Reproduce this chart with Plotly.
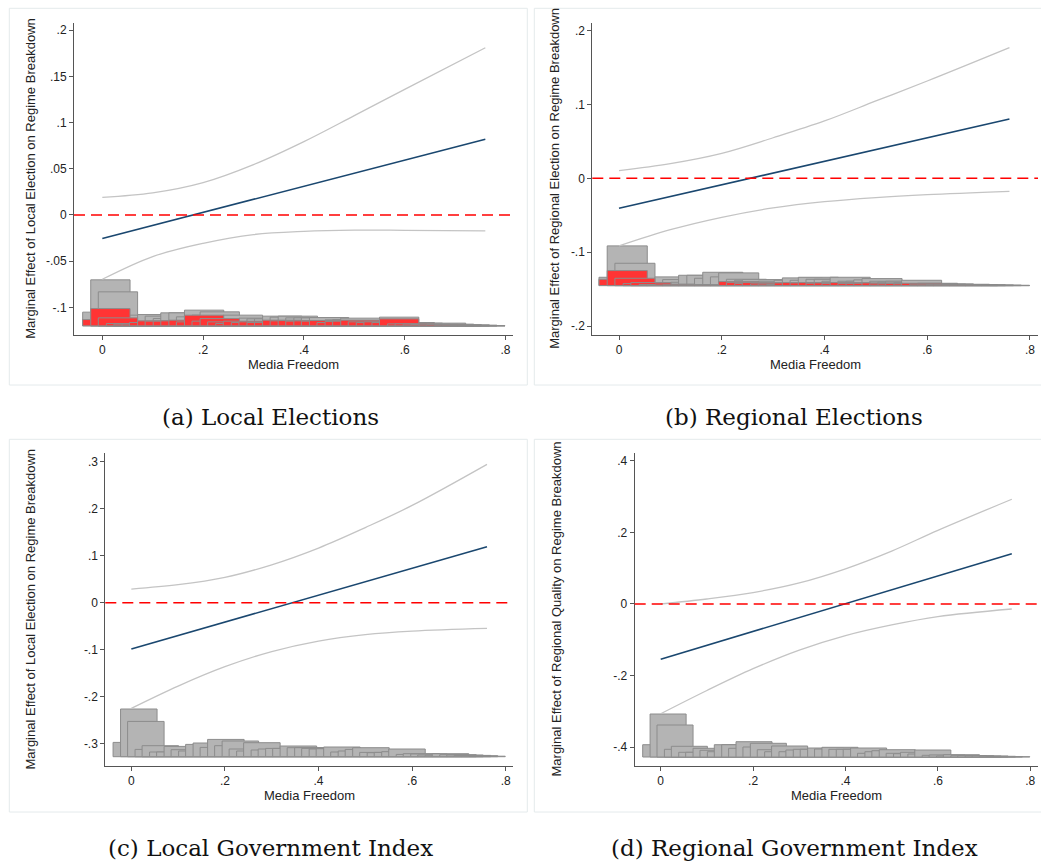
import plotly.graph_objects as go

# ---------------------------------------------------------------------------
# Marginal effect estimates (evaluated along Media Freedom)
# ---------------------------------------------------------------------------
media_freedom = [0.0, 0.1, 0.2, 0.3, 0.4, 0.5, 0.6, 0.76]

me_local = [-0.0255, -0.0114, 0.0027, 0.0169, 0.0310, 0.0452, 0.0594, 0.0820]
hi_local = [0.0191, 0.0239, 0.0350, 0.0545, 0.0794, 0.1075, 0.1360, 0.1810]
lo_local = [-0.0696, -0.0450, -0.0307, -0.0212, -0.0177, -0.0164, -0.0166, -0.0173]

me_regional = [-0.0405, -0.0246, -0.0088, 0.0071, 0.0230, 0.0389, 0.0547, 0.0802]
hi_regional = [0.0104, 0.0199, 0.0338, 0.0548, 0.0775, 0.1045, 0.1315, 0.1766]
lo_regional = [-0.0914, -0.0695, -0.0527, -0.0400, -0.0315, -0.0260, -0.0221, -0.0176]

me_local_gov = [-0.0984, -0.0698, -0.0412, -0.0126, 0.0160, 0.0446, 0.0732, 0.1189]
hi_local_gov = [0.0290, 0.0382, 0.0538, 0.0805, 0.1160, 0.1595, 0.2065, 0.2937]
lo_local_gov = [-0.2243, -0.1770, -0.1359, -0.1038, -0.0815, -0.0678, -0.0603, -0.0545]

me_regional_gov = [-0.1544, -0.1156, -0.0768, -0.0380, 0.0008, 0.0396, 0.0784, 0.1405]
hi_regional_gov = [0.0000, 0.0140, 0.0320, 0.0590, 0.0985, 0.1480, 0.2060, 0.2930]
lo_regional_gov = [-0.3070, -0.2420, -0.1810, -0.1290, -0.0884, -0.0586, -0.0353, -0.0140]

# ---------------------------------------------------------------------------
# Distribution of Media Freedom (observations per value)
# ---------------------------------------------------------------------------
mf_values = [0.000, 0.016, 0.031, 0.047, 0.062, 0.078, 0.093, 0.109, 0.124, 0.140,
             0.155, 0.171, 0.186, 0.202, 0.217, 0.233, 0.248, 0.264, 0.279, 0.295,
             0.310, 0.326, 0.341, 0.357, 0.372, 0.388, 0.403, 0.419, 0.434, 0.450,
             0.465, 0.481, 0.496, 0.512, 0.527, 0.543, 0.558, 0.574, 0.589, 0.605,
             0.620, 0.636, 0.651, 0.667, 0.682, 0.698, 0.713, 0.729, 0.744, 0.760]

obs_local_all = [13.7, 46.0, 34.0, 2.3, 3.0, 3.0, 10.7, 11.3, 9.7, 7.3,
                 13.0, 13.0, 9.0, 15.7, 10.7, 14.0, 7.3, 5.7, 10.7, 5.7,
                 7.7, 7.0, 7.0, 9.7, 8.7, 9.7, 8.0, 8.0, 8.0, 8.3,
                 5.3, 6.0, 6.3, 7.7, 5.3, 4.7, 5.3, 4.7, 8.7, 3.0,
                 3.3, 2.7, 2.3, 1.7, 2.7, 1.7, 1.3, 1.0, 0.7, 0.3]
obs_local_elec = [6.3, 17.3, 8.0, 2.3, 1.7, 1.7, 3.3, 5.0, 4.7, 4.7,
                  5.0, 5.7, 4.0, 10.7, 4.7, 7.3, 4.0, 2.3, 4.7, 3.3,
                  4.0, 3.3, 3.3, 5.7, 5.0, 5.3, 4.7, 5.0, 4.7, 5.3,
                  3.3, 4.3, 4.7, 5.7, 4.0, 3.3, 4.0, 3.3, 7.0, 2.0,
                  2.0, 1.7, 1.3, 1.0, 1.3, 0.7, 0.7, 0.3, 0.3, 0.0]

obs_regional_all = [8.3, 39.7, 22.3, 3.3, 3.0, 2.3, 2.5, 8.7, 6.0, 3.3,
                    10.3, 10.3, 7.3, 13.3, 8.7, 12.7, 6.3, 5.3, 6.0, 3.3,
                    4.3, 1.0, 5.3, 7.7, 5.3, 8.3, 6.3, 6.3, 4.3, 8.3,
                    4.3, 4.3, 5.7, 7.0, 4.3, 3.5, 4.3, 3.0, 5.3, 2.0,
                    2.3, 1.5, 1.7, 1.0, 1.3, 0.7, 0.7, 0.5, 0.3, 0.3]
obs_regional_elec = [6.3, 15.0, 7.3, 2.0, 3.0, 1.0, 1.0, 1.5, 0.7, 0.7,
                     0.5, 0.5, 0.7, 0.7, 0.5, 4.0, 3.0, 2.0, 3.0, 1.7,
                     1.5, 1.0, 2.7, 3.0, 2.7, 3.0, 2.3, 2.7, 2.0, 3.0,
                     2.0, 2.0, 2.3, 2.7, 1.7, 1.7, 2.0, 1.7, 2.3, 1.3,
                     1.3, 1.0, 1.0, 0.7, 0.7, 0.5, 0.5, 0.3, 0.3, 0.0]

obs_local_gov = [14.3, 47.7, 35.3, 7.3, 11.0, 4.7, 4.7, 10.3, 7.0, 5.7,
                 12.3, 13.7, 9.3, 17.3, 11.0, 15.7, 7.7, 5.7, 14.0, 6.7,
                 7.7, 8.3, 8.3, 10.7, 9.0, 9.0, 8.3, 7.7, 8.0, 9.7,
                 4.7, 5.7, 7.3, 9.0, 4.3, 4.0, 4.3, 5.0, 7.7, 2.3,
                 3.0, 2.7, 1.7, 1.5, 3.0, 2.0, 1.7, 1.3, 1.0, 0.5]

obs_regional_gov = [12.3, 43.0, 32.0, 7.7, 10.7, 4.7, 4.7, 8.7, 6.7, 5.3,
                    12.3, 12.3, 8.7, 15.3, 10.0, 13.7, 7.3, 5.3, 11.0, 5.3,
                    7.0, 7.7, 7.7, 9.0, 8.0, 9.7, 7.7, 7.7, 7.7, 9.0,
                    3.7, 5.3, 6.3, 7.3, 3.7, 3.3, 4.7, 3.0, 7.0, 1.7,
                    2.0, 1.0, 2.3, 1.3, 1.3, 1.0, 1.0, 0.7, 0.5, 0.3]

x_ticks = [0, 0.2, 0.4, 0.6, 0.8]
x_ticktext = ["0", ".2", ".4", ".6", ".8"]

panels = [
    dict(key="", me=me_local, hi=hi_local, lo=lo_local,
         hist=[obs_local_all, obs_local_elec],
         ytitle="Marginal Effect of Local Election on Regime Breakdown",
         caption="(a) Local Elections",
         yticks=[-0.1, -0.05, 0, 0.05, 0.1, 0.15, 0.2],
         yticktext=["-.1", "-.05", "0", ".05", ".1", ".15", ".2"]),
    dict(key="2", me=me_regional, hi=hi_regional, lo=lo_regional,
         hist=[obs_regional_all, obs_regional_elec],
         ytitle="Marginal Effect of Regional Election on Regime Breakdown",
         caption="(b) Regional Elections",
         yticks=[-0.2, -0.1, 0, 0.1, 0.2],
         yticktext=["-.2", "-.1", "0", ".1", ".2"]),
    dict(key="3", me=me_local_gov, hi=hi_local_gov, lo=lo_local_gov,
         hist=[obs_local_gov],
         ytitle="Marginal Effect of Local Election on Regime Breakdown",
         caption="(c) Local Government Index",
         yticks=[-0.3, -0.2, -0.1, 0, 0.1, 0.2, 0.3],
         yticktext=["-.3", "-.2", "-.1", "0", ".1", ".2", ".3"]),
    dict(key="4", me=me_regional_gov, hi=hi_regional_gov, lo=lo_regional_gov,
         hist=[obs_regional_gov],
         ytitle="Marginal Effect of Regional Quality on Regime Breakdown",
         caption="(d) Regional Government Index",
         yticks=[-0.4, -0.2, 0, 0.2, 0.4],
         yticktext=["-.4", "-.2", "0", ".2", ".4"]),
]

# ---------------------------------------------------------------------------
# Layout geometry (pixels on a 1041 x 866 page)
# ---------------------------------------------------------------------------
W, H = 1041, 866
geom = [
    dict(xpx=(74, 513), ypx=(22.7, 335), xr=(-0.0562, 0.8149), yr=(-0.1299, 0.2081),
         base=-0.120, ppu=924, ytitle_x=31, xtitle_y=364, cap=(270, 417),
         frame=(9.3, 8.3, 527.3, 385)),
    dict(xpx=(592.3, 1038), ypx=(22.7, 335), xr=(-0.0520, 0.8156), yr=(-0.2118, 0.2103),
         base=-0.145, ppu=740, ytitle_x=555, xtitle_y=364, cap=(794, 417),
         frame=(534.3, 8.3, 1045, 385)),
    dict(xpx=(105.3, 513.3), ypx=(453.3, 765.7), xr=(-0.0556, 0.8162), yr=(-0.3461, 0.3172),
         base=-0.327, ppu=471, ytitle_x=30, xtitle_y=795, cap=(270, 848),
         frame=(9.3, 439.3, 527.3, 812)),
    dict(xpx=(634.7, 1038), ypx=(453.3, 765.7), xr=(-0.0563, 0.8167), yr=(-0.4523, 0.4215),
         base=-0.428, ppu=357.5, ytitle_x=556, xtitle_y=795, cap=(794, 848),
         frame=(534.3, 439.3, 1045, 812)),
]

GRAY_FILL = "#b4b4b4"
GRAY_EDGE = "#8c8c8c"
RED_FILL = "#ff3434"
CI_COLOR = "#c4c4c4"
ME_COLOR = "#1a476f"
AXIS_FONT = "Liberation Sans, Arial, sans-serif"

fig = go.Figure()
layout = dict(width=W, height=H, margin=dict(l=0, r=0, t=0, b=0),
              paper_bgcolor="white", plot_bgcolor="white",
              barmode="overlay", showlegend=False)
annotations = []
shapes = []

for p, g in zip(panels, geom):
    xa = "x" + p["key"]
    ya = "y" + p["key"]
    scale = 1.0 / g["ppu"]

    # histograms of the moderator, drawn along the bottom of the panel
    fills = [GRAY_FILL, RED_FILL]
    for h, fill in zip(p["hist"], fills):
        fig.add_trace(go.Bar(
            x=mf_values, y=[v * scale for v in h], base=g["base"], width=0.078,
            marker=dict(color=fill, line=dict(color=GRAY_EDGE, width=1)),
            xaxis=xa, yaxis=ya, hoverinfo="skip"))

    # confidence bounds
    for ci in (p["hi"], p["lo"]):
        fig.add_trace(go.Scatter(
            x=media_freedom, y=ci, mode="lines",
            line=dict(color=CI_COLOR, width=1.3, shape="spline", smoothing=1.0),
            xaxis=xa, yaxis=ya, hoverinfo="skip"))

    # marginal effect
    fig.add_trace(go.Scatter(
        x=media_freedom, y=p["me"], mode="lines",
        line=dict(color=ME_COLOR, width=1.6),
        xaxis=xa, yaxis=ya, hoverinfo="skip"))

    # zero reference line
    shapes.append(dict(type="line", xref=xa + " domain", yref=ya,
                       x0=0, x1=1, y0=0, y1=0,
                       line=dict(color="#ff0000", width=1.4, dash="11px,6px")))

    axis_common = dict(showgrid=False, zeroline=False, showline=True,
                       linecolor="#555555", linewidth=1, ticks="outside",
                       ticklen=4, tickwidth=1, tickcolor="#555555",
                       tickfont=dict(family=AXIS_FONT, size=12, color="#222222"))
    layout["xaxis" + p["key"]] = dict(
        domain=[g["xpx"][0] / W, g["xpx"][1] / W], range=list(g["xr"]),
        anchor=ya, tickvals=x_ticks, ticktext=x_ticktext, **axis_common)
    layout["yaxis" + p["key"]] = dict(
        domain=[1 - g["ypx"][1] / H, 1 - g["ypx"][0] / H], range=list(g["yr"]),
        anchor=xa, tickvals=p["yticks"], ticktext=p["yticktext"], **axis_common)

    # axis titles
    annotations.append(dict(
        text=p["ytitle"], textangle=-90, xref="paper", yref="paper",
        x=g["ytitle_x"] / W, y=1 - (g["ypx"][0] + g["ypx"][1]) / 2 / H,
        xanchor="center", yanchor="middle", showarrow=False,
        font=dict(family=AXIS_FONT, size=13, color="#222222")))
    annotations.append(dict(
        text="Media Freedom", xref="paper", yref="paper",
        x=(g["xpx"][0] + g["xpx"][1]) / 2 / W, y=1 - g["xtitle_y"] / H,
        xanchor="center", yanchor="middle", showarrow=False,
        font=dict(family=AXIS_FONT, size=13, color="#222222")))
    # panel caption
    annotations.append(dict(
        text=p["caption"], xref="paper", yref="paper",
        x=g["cap"][0] / W, y=1 - g["cap"][1] / H,
        xanchor="center", yanchor="middle", showarrow=False,
        font=dict(family="DejaVu Serif, serif", size=23, color="#111111")))

    # light frame around each graph
    fx0, fy0, fx1, fy1 = g["frame"]
    shapes.append(dict(type="rect", xref="paper", yref="paper",
                       x0=fx0 / W, x1=fx1 / W, y0=1 - fy1 / H, y1=1 - fy0 / H,
                       line=dict(color="#e4eaec", width=1), fillcolor="rgba(0,0,0,0)",
                       layer="below"))

layout["annotations"] = annotations
layout["shapes"] = shapes
fig.update_layout(**layout)
fig.write_html("out.html")
